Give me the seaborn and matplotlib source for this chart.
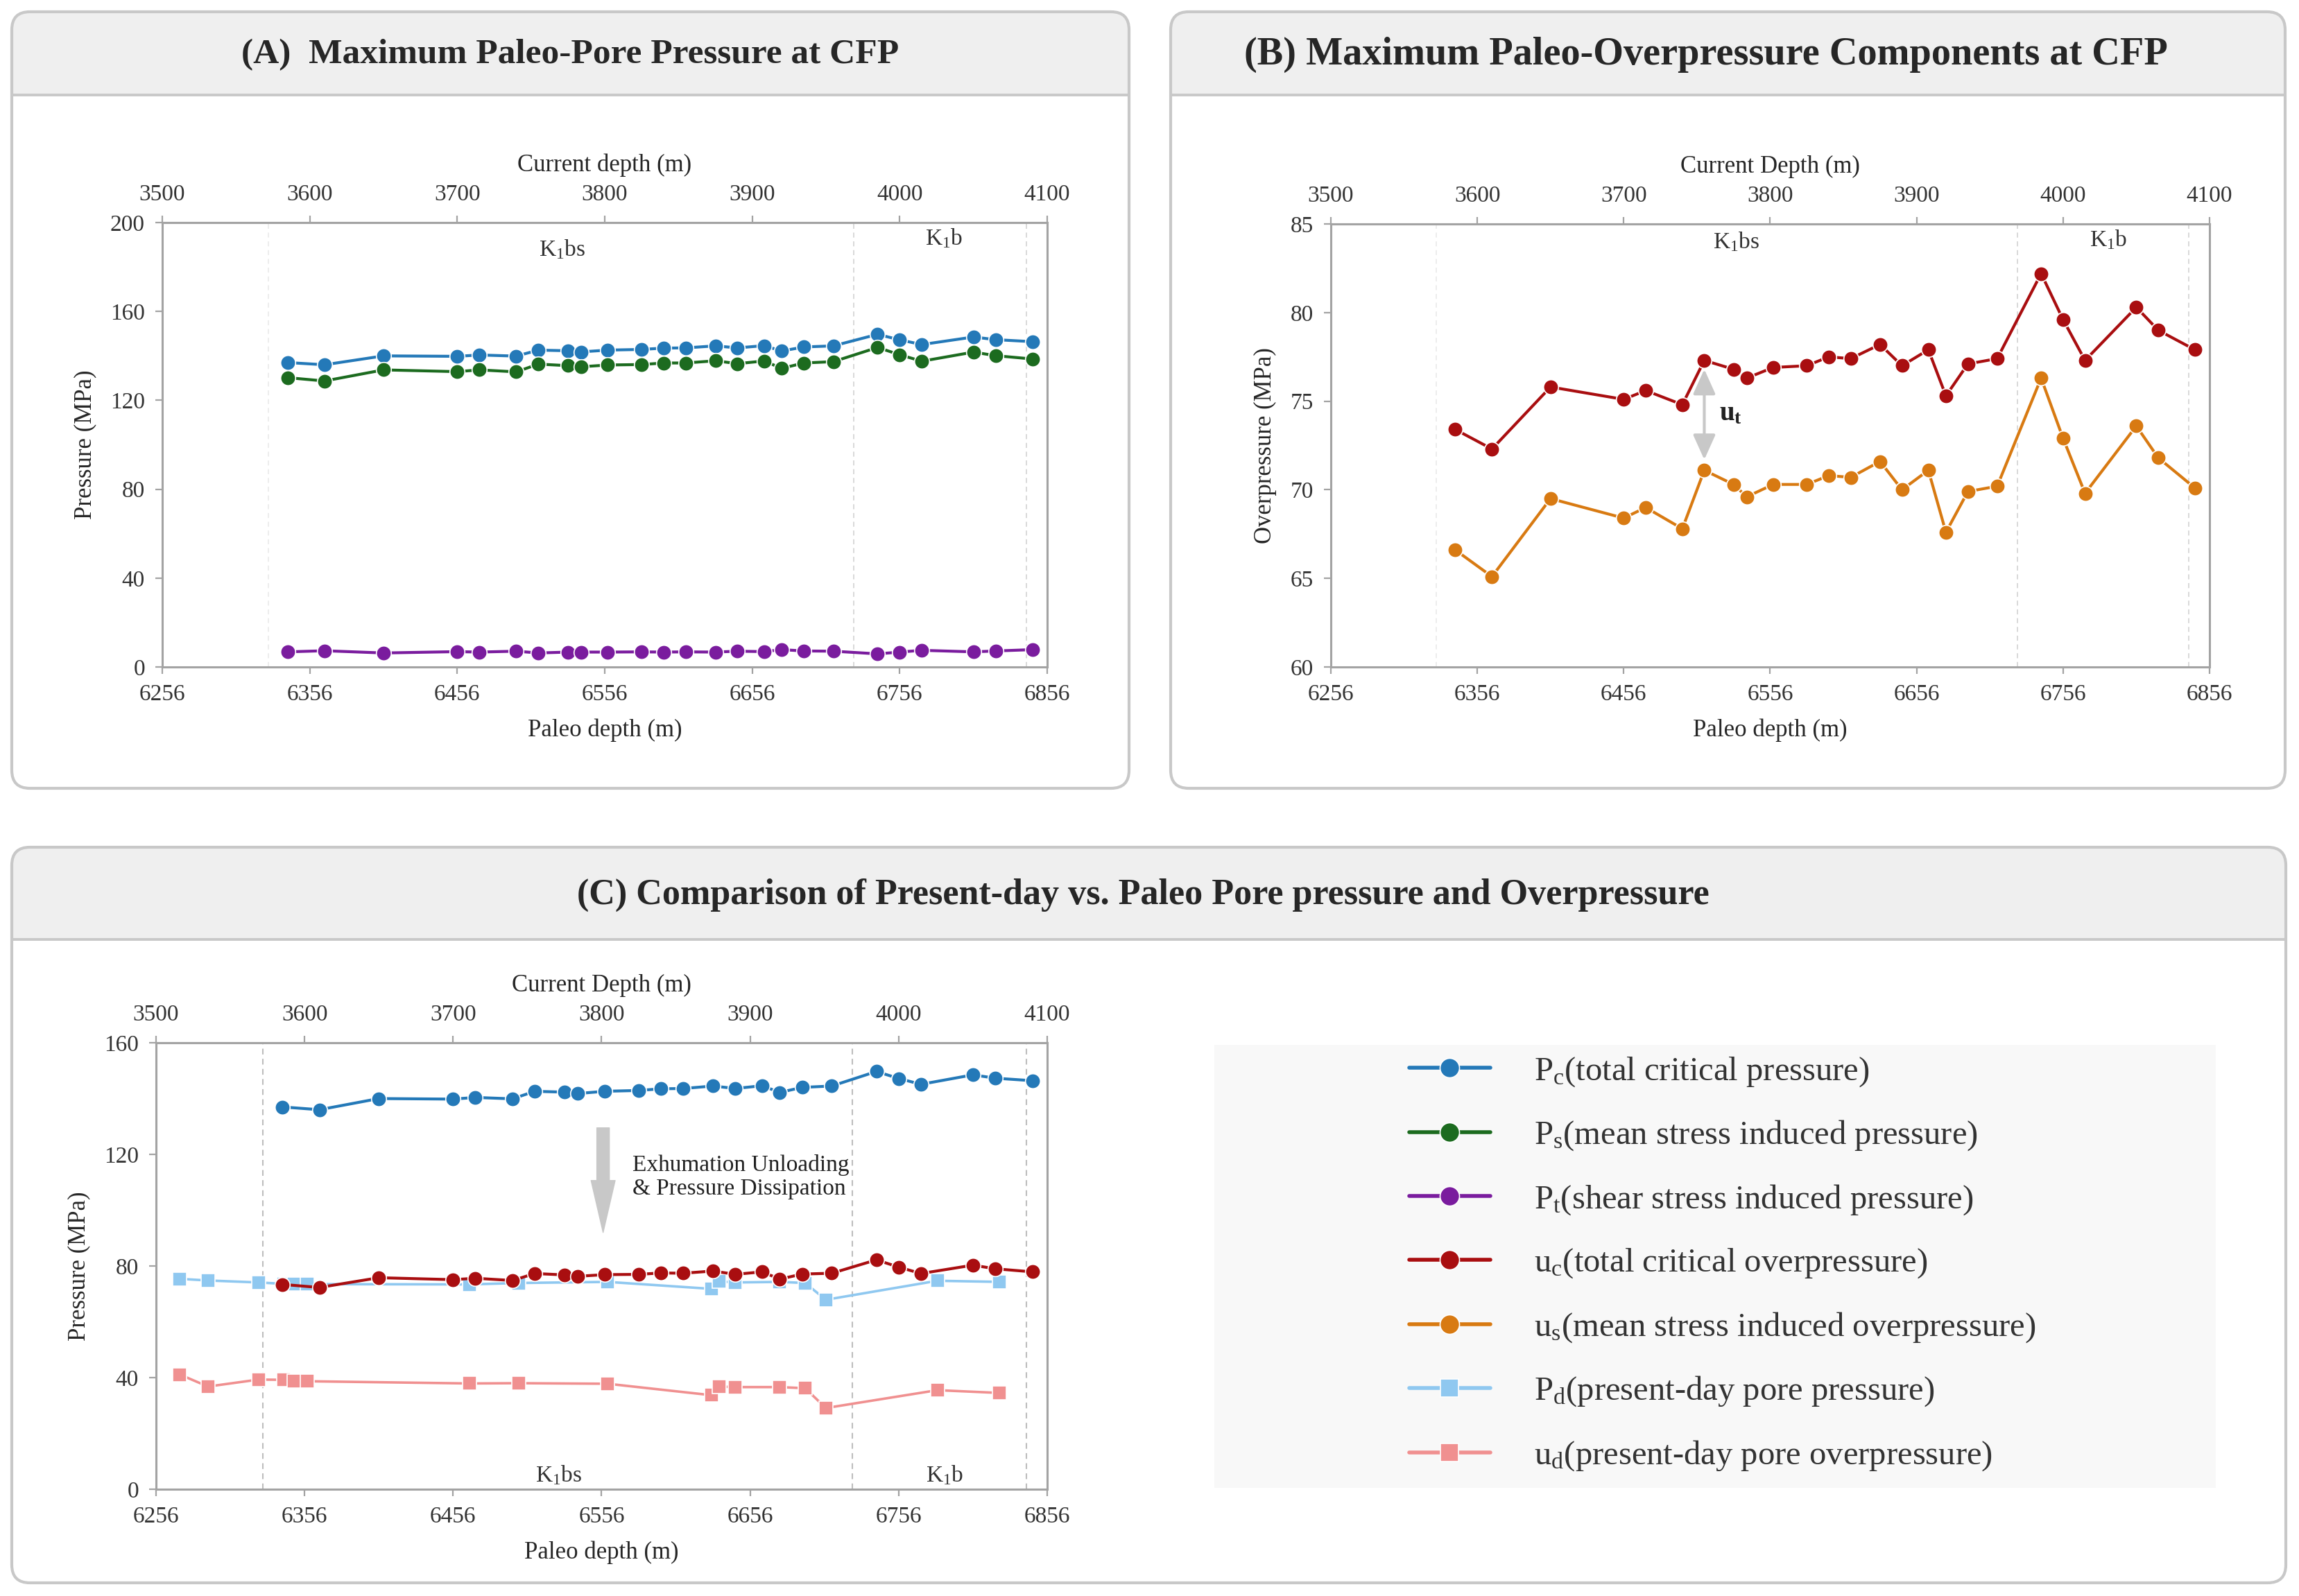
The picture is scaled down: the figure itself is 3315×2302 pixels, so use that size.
import matplotlib
matplotlib.use("Agg")
import matplotlib.pyplot as plt
import seaborn as sns
from matplotlib.patches import FancyBboxPatch, Rectangle

# =============================
# DATA
# =============================
UPLIFT = 2756  # paleo depth minus current depth (m)

# CFP samples, paleo depth (m)
paleo_depth = [6341, 6366, 6406, 6456, 6471, 6496, 6511, 6531, 6540, 6558,
               6581, 6596, 6611, 6631, 6646, 6664, 6676, 6691, 6711, 6741,
               6756, 6771, 6806, 6821, 6846]

p_c = [137.0, 136.0, 140.0, 139.8, 140.4, 139.9, 142.6, 142.3, 141.8, 142.6,
       142.9, 143.5, 143.6, 144.5, 143.6, 144.6, 142.2, 144.0, 144.5, 149.7,
       147.2, 145.1, 148.5, 147.3, 146.4]
p_s = [130.2, 128.7, 133.7, 132.9, 133.7, 132.8, 136.3, 135.6, 135.1, 135.9,
       136.1, 136.8, 136.8, 137.8, 136.5, 137.7, 134.4, 136.8, 137.4, 143.8,
       140.5, 137.6, 141.7, 140.1, 138.6]
p_t = [6.8, 7.3, 6.3, 6.9, 6.7, 7.1, 6.3, 6.7, 6.7, 6.7,
       6.8, 6.7, 6.8, 6.7, 7.1, 6.9, 7.8, 7.2, 7.1, 5.9,
       6.7, 7.5, 6.8, 7.2, 7.8]
u_c = [73.4, 72.3, 75.8, 75.1, 75.6, 74.8, 77.3, 76.8, 76.3, 76.9,
       77.0, 77.5, 77.4, 78.2, 77.0, 77.9, 75.3, 77.1, 77.4, 82.2,
       79.6, 77.3, 80.3, 79.0, 77.9]
u_s = [66.6, 65.1, 69.5, 68.4, 69.0, 67.8, 71.1, 70.3, 69.6, 70.3,
       70.3, 70.8, 70.7, 71.6, 70.0, 71.1, 67.6, 69.9, 70.2, 76.3,
       72.9, 69.8, 73.6, 71.8, 70.1]

# present-day measurements, current depth (m)
present_depth = [3516, 3535, 3569, 3586, 3593, 3602, 3711, 3744, 3804, 3874,
                 3879, 3890, 3920, 3937, 3951, 4026, 4068]
p_d = [75.4, 74.8, 74.1, 73.6, 73.5, 73.5, 73.4, 73.9, 74.3, 71.8,
       74.5, 74.1, 74.3, 73.9, 67.9, 74.7, 74.3]
u_d = [41.1, 36.8, 39.3, 39.2, 38.7, 38.7, 37.9, 38.0, 37.8, 33.7,
       36.8, 36.6, 36.6, 36.2, 29.1, 35.5, 34.5]

PALEO_TICKS = [6256, 6356, 6456, 6556, 6656, 6756, 6856]
CURRENT_TICKS = [3500, 3600, 3700, 3800, 3900, 4000, 4100]
BOUNDARIES = [6328, 6725, 6842]   # formation boundaries (paleo depth)

LABELS = {
    "pc": r"P$_\mathrm{c}$(total critical pressure)",
    "ps": r"P$_\mathrm{s}$(mean stress induced pressure)",
    "pt": r"P$_\mathrm{t}$(shear stress induced pressure)",
    "uc": r"u$_\mathrm{c}$(total critical overpressure)",
    "us": r"u$_\mathrm{s}$(mean stress induced overpressure)",
    "pd": r"P$_\mathrm{d}$(present-day pore pressure)",
    "ud": r"u$_\mathrm{d}$(present-day pore overpressure)",
}
COLORS = {
    "pc": "#2479b8", "ps": "#1c6b1f", "pt": "#7a1c9e",
    "uc": "#a90e10", "us": "#d87a12", "pd": "#8fc8f0", "ud": "#f09090",
}

# =============================
# STYLE
# =============================
sns.set_theme(style="white")
plt.rcParams["font.family"] = ["Liberation Serif", "DejaVu Serif"]
plt.rcParams["mathtext.fontset"] = "custom"
plt.rcParams["mathtext.rm"] = "Liberation Serif"
plt.rcParams["mathtext.it"] = "Liberation Serif:italic"
plt.rcParams["mathtext.bf"] = "Liberation Serif:bold"
plt.rcParams["text.color"] = "#333333"

W, H = 3315, 2302
SPINE = "#a3a3a3"
FRAME = "#c8c8c8"
FS = 24


def to_current(x):
    return x - UPLIFT


def to_paleo(x):
    return x + UPLIFT


fig = plt.figure(figsize=(W / 100, H / 100), dpi=100)
fig.patch.set_facecolor("white")

ax_bg = fig.add_axes([0, 0, 1, 1])
ax_bg.set_xlim(0, W)
ax_bg.set_ylim(H, 0)
ax_bg.axis("off")


def draw_panel(x0, y0, x1, y1, head_bottom, title, title_fs, title_dx=0):
    r = 26
    box = f"round,pad=0,rounding_size={r}"
    ax_bg.add_patch(FancyBboxPatch((x0, y0), x1 - x0, y1 - y0, boxstyle=box,
                                   fc="white", ec="none", zorder=0))
    ax_bg.add_patch(FancyBboxPatch((x0, y0), x1 - x0, head_bottom - y0, boxstyle=box,
                                   fc="#efefef", ec="none", zorder=1))
    ax_bg.add_patch(Rectangle((x0, head_bottom - r), x1 - x0, r,
                              fc="#efefef", ec="none", zorder=1))
    ax_bg.plot([x0, x1], [head_bottom, head_bottom], color=FRAME, lw=2.8, zorder=2)
    ax_bg.add_patch(FancyBboxPatch((x0, y0), x1 - x0, y1 - y0, boxstyle=box,
                                   fc="none", ec=FRAME, lw=3, zorder=3))
    ax_bg.text((x0 + x1) / 2 + title_dx, (y0 + head_bottom) / 2 + 2, title,
               fontsize=title_fs, fontweight="bold", ha="center", va="center",
               color="#262626", zorder=4)


def add_axes_px(left, top, right, bottom):
    return fig.add_axes([left / W, 1 - bottom / H, (right - left) / W, (bottom - top) / H])


def style_axes(ax, ylim, yticks, top_label, ylabel):
    ax.set_xlim(PALEO_TICKS[0], PALEO_TICKS[-1])
    ax.set_xticks(PALEO_TICKS)
    ax.set_ylim(*ylim)
    ax.set_yticks(yticks)
    for s in ax.spines.values():
        s.set_visible(True)
        s.set_color(SPINE)
        s.set_linewidth(2.2)
    ax.tick_params(axis="both", direction="out", length=7, width=1.6, color=SPINE,
                   labelsize=FS, pad=11, bottom=True, left=True, labelcolor="#333333")
    ax.set_xlabel("Paleo depth (m)", fontsize=FS + 1, labelpad=14)
    ax.set_ylabel(ylabel, fontsize=FS + 1, labelpad=14)
    sec = ax.secondary_xaxis("top", functions=(to_current, to_paleo))
    sec.set_xticks(CURRENT_TICKS)
    sec.tick_params(axis="x", direction="out", length=7, width=1.6, color=SPINE,
                    labelsize=FS, pad=11, top=True, labelcolor="#333333")
    sec.spines["top"].set_color(SPINE)
    sec.spines["top"].set_linewidth(2.2)
    sec.set_xlabel(top_label, fontsize=FS + 1, labelpad=13)


def line(ax, x, y, key, marker="o", ms=15.5, lw=3.0):
    sns.lineplot(x=x, y=y, ax=ax, color=COLORS[key], marker=marker, markersize=ms,
                 markeredgecolor="white", markeredgewidth=1.2, linewidth=lw,
                 estimator=None, legend=False, label=LABELS[key], zorder=3)
    return ax.get_lines()[-1]


def boundaries(ax, colors, lw=1.3):
    for b, c in zip(BOUNDARIES, colors):
        ax.axvline(b, color=c, ls=(0, (4, 3)), lw=lw, zorder=1)


# =============================
# PANEL FRAMES
# =============================
draw_panel(17, 17, 1628, 1137, 137, "(A)  Maximum Paleo-Pore Pressure at CFP", 37)
draw_panel(1688, 17, 3295, 1137, 137, "(B) Maximum Paleo-Overpressure Components at CFP",
           40.5, title_dx=-32)
draw_panel(17, 1222, 3296, 2283, 1355,
           "(C) Comparison of Present-day vs. Paleo Pore pressure and Overpressure", 37.5,
           title_dx=-8)

# =============================
# (A) PALEO PORE PRESSURE
# =============================
ax_a = add_axes_px(234, 321, 1510, 962)
boundaries(ax_a, ["#ececec", "#d6d6d6", "#d6d6d6"])
h_pc = line(ax_a, paleo_depth, p_c, "pc")
h_ps = line(ax_a, paleo_depth, p_s, "ps")
h_pt = line(ax_a, paleo_depth, p_t, "pt")
style_axes(ax_a, (0, 200), [0, 40, 80, 120, 160, 200], "Current depth (m)", "Pressure (MPa)")
ax_a.text(6527, 188, r"K$_1$bs", fontsize=FS, ha="center", va="center")
ax_a.text(6786, 193, r"K$_1$b", fontsize=FS, ha="center", va="center")

# =============================
# (B) PALEO OVERPRESSURE
# =============================
ax_b = add_axes_px(1919, 323, 3186, 962)
boundaries(ax_b, ["#ececec", "#d6d6d6", "#d6d6d6"])
h_uc = line(ax_b, paleo_depth, u_c, "uc")
h_us = line(ax_b, paleo_depth, u_s, "us")
style_axes(ax_b, (60, 85), [60, 65, 70, 75, 80, 85], "Current Depth (m)", "Overpressure (MPa)")
ax_b.text(6533, 84.0, r"K$_1$bs", fontsize=FS, ha="center", va="center")
ax_b.text(6787, 84.1, r"K$_1$b", fontsize=FS, ha="center", va="center")
ax_b.annotate("", xy=(6511, 71.7), xytext=(6511, 76.8),
              arrowprops=dict(arrowstyle="<|-|>,head_length=1.0,head_width=0.45",
                              color="#c8c8c8", lw=3, mutation_scale=22,
                              shrinkA=0, shrinkB=0))
ax_b.text(6521, 74.3, r"$\mathbf{u}_\mathbf{t}$", fontsize=28, ha="left", va="center",
          color="#222222")

# =============================
# (C) PRESENT-DAY VS PALEO
# =============================
ax_c = add_axes_px(225, 1504, 1510, 2148)
boundaries(ax_c, ["#bdbdbd", "#bdbdbd", "#bdbdbd"], lw=1.5)
present_paleo = [to_paleo(d) for d in present_depth]
line(ax_c, paleo_depth, p_c, "pc")
h_pd = line(ax_c, present_paleo, p_d, "pd", marker="s", ms=14, lw=2.6)
h_ud = line(ax_c, present_paleo, u_d, "ud", marker="s", ms=14, lw=2.6)
line(ax_c, paleo_depth, u_c, "uc")
style_axes(ax_c, (0, 160), [0, 40, 80, 120, 160], "Current Depth (m)", "Pressure (MPa)")
ax_c.text(6527, 5, r"K$_1$bs", fontsize=FS, ha="center", va="center")
ax_c.text(6787, 5, r"K$_1$b", fontsize=FS, ha="center", va="center")
ax_c.annotate("", xy=(6557, 92), xytext=(6557, 129.5),
              arrowprops=dict(arrowstyle="simple,head_length=5.4,head_width=2.5,tail_width=1.3",
                              color="#c8c8c8", mutation_scale=10, shrinkA=0, shrinkB=0))
ax_c.text(6577, 112, "Exhumation Unloading\n& Pressure Dissipation", fontsize=FS,
          ha="left", va="center", linespacing=1.15, color="#222222")

# =============================
# LEGEND
# =============================
ax_bg.add_patch(Rectangle((1751, 1507), 3195 - 1751, 2146 - 1507,
                          fc="#f8f8f8", ec="none", zorder=1))
handles = [h_pc, h_ps, h_pt, h_uc, h_us, h_pd, h_ud]
fig.legend(handles, [h.get_label() for h in handles], loc="upper left",
           bbox_to_anchor=(2032 / W, 1 - 1522 / H), frameon=False, fontsize=35,
           handlelength=2.4, handletextpad=1.3, labelspacing=0.9, markerscale=1.3,
           borderpad=0, borderaxespad=0, labelcolor="#333333")
for lh in fig.legends[0].get_lines():
    lh.set_linewidth(4.0)

fig.savefig("out.png", dpi=100)
